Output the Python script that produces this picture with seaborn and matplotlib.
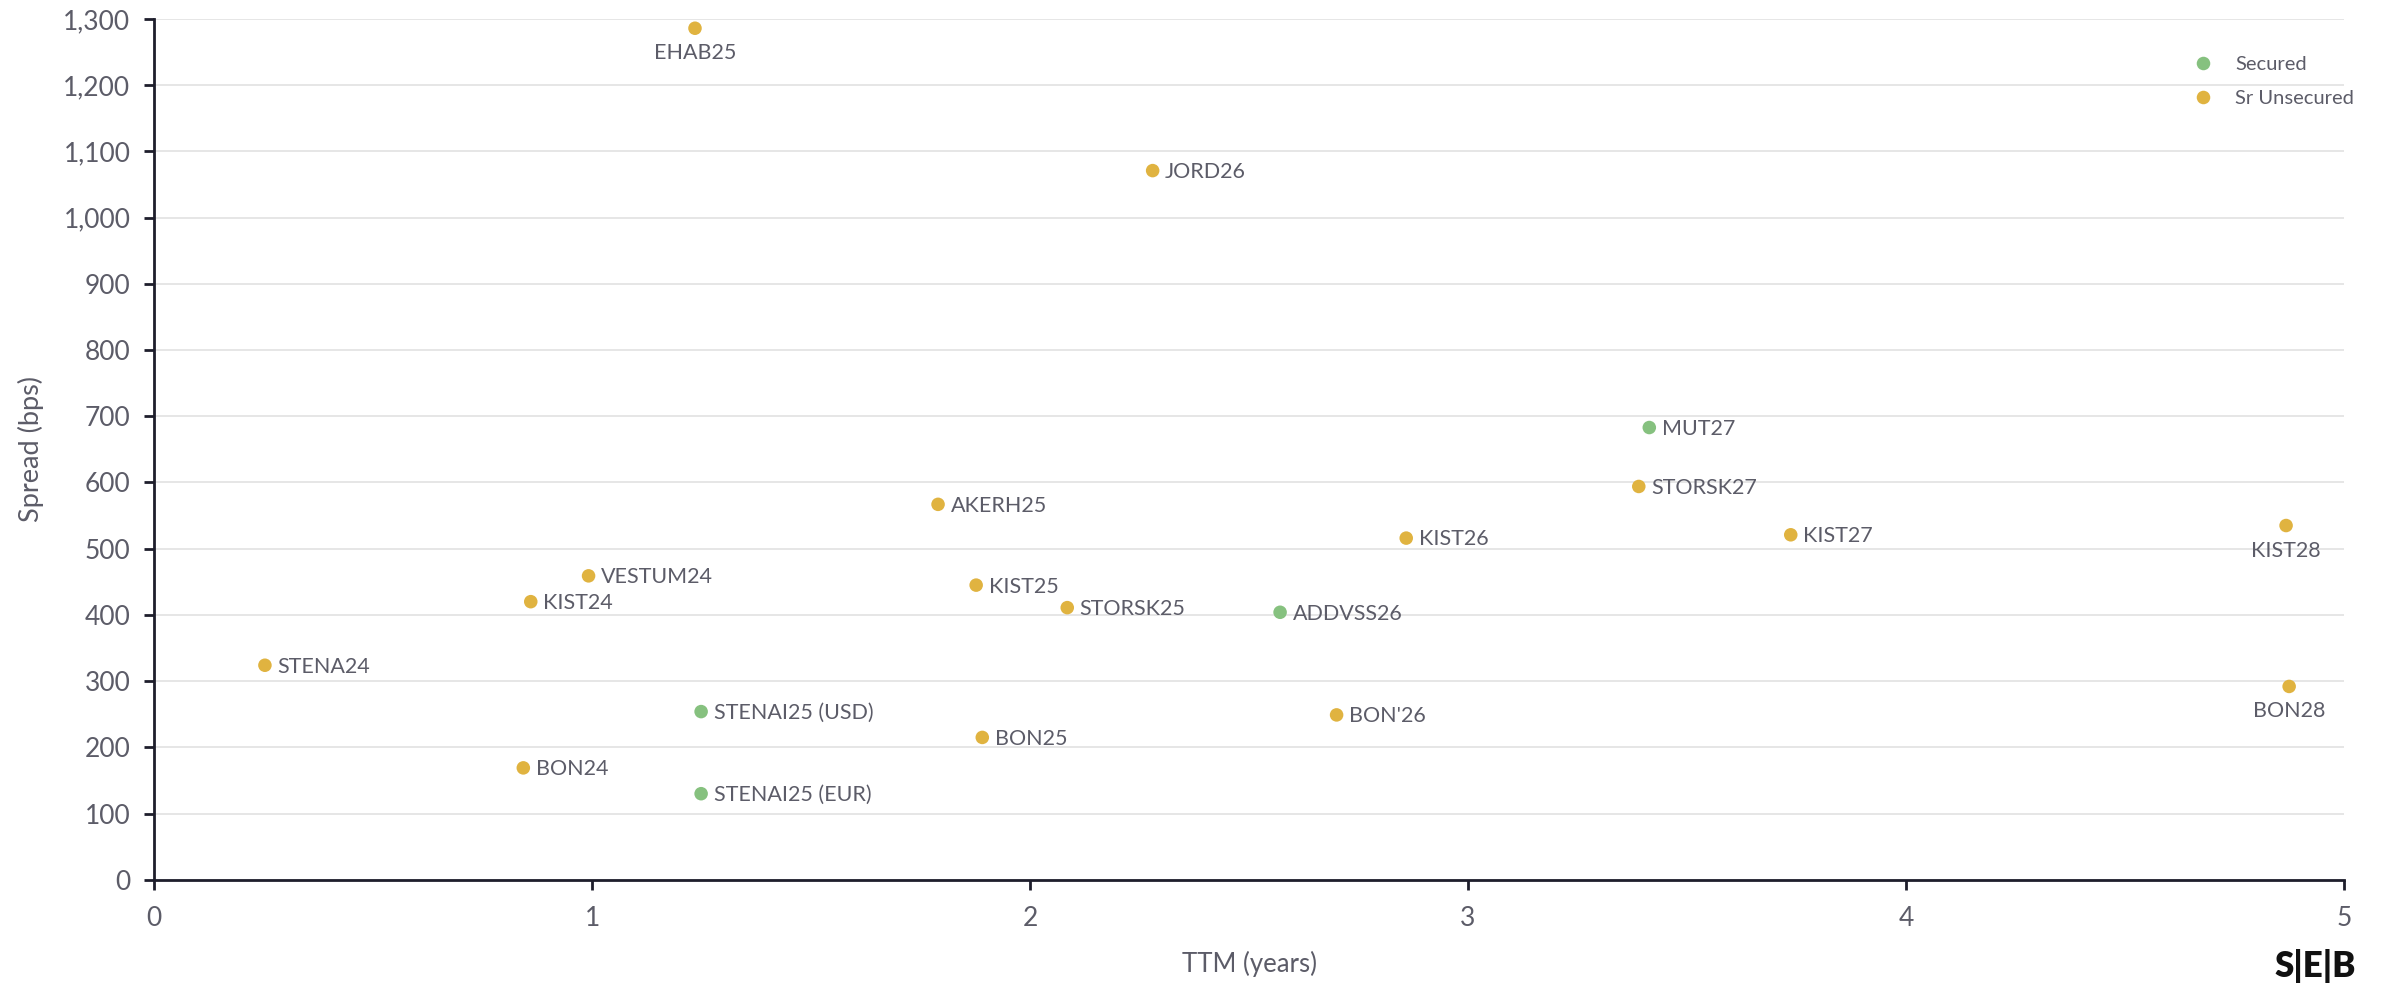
import matplotlib
matplotlib.use("Agg")
import matplotlib.pyplot as plt
import seaborn as sns
import pandas as pd
from matplotlib.ticker import FuncFormatter, MultipleLocator

names = ["EHAB25", "JORD26", "MUT27", "STORSK27", "KIST27", "KIST28", "BON28",
         "AKERH25", "KIST26", "VESTUM24", "KIST24", "KIST25", "STORSK25", "ADDVSS26",
         "STENA24", "STENAI25 (USD)", "BON'26", "BON25", "BON24", "STENAI25 (EUR)"]
ttm = [1.235, 2.28, 3.414, 3.39, 3.737, 4.868, 4.875,
       1.79, 2.859, 0.992, 0.86, 1.877, 2.085, 2.571,
       0.253, 1.249, 2.70, 1.891, 0.843, 1.249]
spread = [1286, 1071, 683, 594, 521, 535, 292,
          567, 516, 459, 420, 445, 411, 404,
          324, 254, 249, 215, 169, 130]
seniority = ["Sr Unsecured", "Sr Unsecured", "Secured", "Sr Unsecured", "Sr Unsecured", "Sr Unsecured", "Sr Unsecured",
             "Sr Unsecured", "Sr Unsecured", "Sr Unsecured", "Sr Unsecured", "Sr Unsecured", "Sr Unsecured", "Secured",
             "Sr Unsecured", "Secured", "Sr Unsecured", "Sr Unsecured", "Sr Unsecured", "Secured"]
below_labels = ["EHAB25", "KIST28", "BON28"]

df = pd.DataFrame({"name": names, "ttm": ttm, "spread": spread, "seniority": seniority})

sns.set_theme(style="white")
plt.rcParams["font.family"] = ["Lato", "DejaVu Sans"]
TXT = "#5c5c68"
AX = "#1e1e2c"

fig = plt.figure(figsize=(23.82, 9.83), dpi=100)
ax = fig.add_axes([0.0647, 0.105, 0.9193, 0.8757])

palette = {"Secured": "#86c17f", "Sr Unsecured": "#e0b340"}
sns.scatterplot(data=df, x="ttm", y="spread", hue="seniority",
                hue_order=["Secured", "Sr Unsecured"], palette=palette,
                s=95, linewidth=0, ax=ax, zorder=3)

for n, x, y in zip(names, ttm, spread):
    if n in below_labels:
        ax.annotate(n, (x, y), xytext=(0, -18), textcoords="offset points",
                    ha="center", va="center", fontsize=15.5, color=TXT)
    else:
        ax.annotate(n, (x, y), xytext=(9, -1), textcoords="offset points",
                    ha="left", va="center", fontsize=15.5, color=TXT)

ax.set_xlim(0, 5)
ax.set_ylim(0, 1300)
ax.yaxis.set_major_locator(MultipleLocator(100))
ax.xaxis.set_major_locator(MultipleLocator(1))
ax.yaxis.set_major_formatter(FuncFormatter(lambda v, p: f"{int(v):,}"))
ax.grid(axis="y", color="#e2e2e2", linewidth=1.2, zorder=0)
ax.grid(axis="x", visible=False)
for s in ["top", "right"]:
    ax.spines[s].set_visible(False)
for s in ["left", "bottom"]:
    ax.spines[s].set_color(AX)
    ax.spines[s].set_linewidth(2)
ax.tick_params(axis="both", colors=AX, length=7, width=2, direction="out",
               labelsize=19, labelcolor=TXT, left=True, bottom=True)
ax.tick_params(axis="x", pad=12)
ax.tick_params(axis="y", pad=10)

ax.set_xlabel("TTM (years)", fontsize=18.5, color=TXT, labelpad=14)
ax.set_ylabel("Spread (bps)", fontsize=19.5, color=TXT, labelpad=14)

leg = ax.legend(loc="upper right", bbox_to_anchor=(1.013, 0.978), frameon=False,
                fontsize=14.5, labelcolor=TXT, handletextpad=0.6, labelspacing=0.85,
                markerscale=1.0)

fig.text(0.989, 0.0, "S|E|B", ha="right", va="bottom", fontsize=25,
         fontweight="heavy", color="#111111")

fig.savefig("out.png", dpi=100, facecolor="white")
